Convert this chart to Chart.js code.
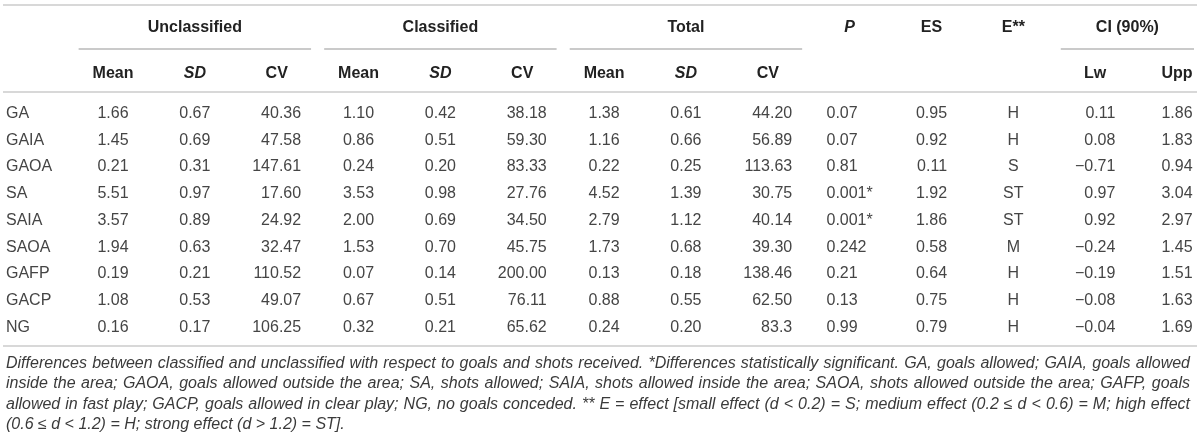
<!DOCTYPE html>
<html>
<head>
<meta charset="utf-8">
<script src="https://cdn.jsdelivr.net/npm/chart.js@4.4.1/dist/chart.umd.min.js"></script>
<style>
html,body{margin:0;padding:0;background:#fff;}
#wrap{width:1200px;height:440px;position:relative;}
</style>
</head>
<body>
<div id="wrap"><canvas id="c"></canvas></div>
<script>
// ---- data ----
const rowLabels = ['GA','GAIA','GAOA','SA','SAIA','SAOA','GAFP','GACP','NG'];
const unclassMean = ['1.66','1.45','0.21','5.51','3.57','1.94','0.19','1.08','0.16'];
const unclassSD   = ['0.67','0.69','0.31','0.97','0.89','0.63','0.21','0.53','0.17'];
const unclassCV   = ['40.36','47.58','147.61','17.60','24.92','32.47','110.52','49.07','106.25'];
const classMean   = ['1.10','0.86','0.24','3.53','2.00','1.53','0.07','0.67','0.32'];
const classSD     = ['0.42','0.51','0.20','0.98','0.69','0.70','0.14','0.51','0.21'];
const classCV     = ['38.18','59.30','83.33','27.76','34.50','45.75','200.00','76.11','65.62'];
const totalMean   = ['1.38','1.16','0.22','4.52','2.79','1.73','0.13','0.88','0.24'];
const totalSD     = ['0.61','0.66','0.25','1.39','1.12','0.68','0.18','0.55','0.20'];
const totalCV     = ['44.20','56.89','113.63','30.75','40.14','39.30','138.46','62.50','83.3'];
const pValue      = ['0.07','0.07','0.81','0.001*','0.001*','0.242','0.21','0.13','0.99'];
const effectSize  = ['0.95','0.92','0.11','1.92','1.86','0.58','0.64','0.75','0.79'];
const effectClass = ['H','H','S','ST','ST','M','H','H','H'];
const ciLower     = ['0.11','0.08','\u22120.71','0.97','0.92','\u22120.24','\u22120.19','\u22120.08','\u22120.04'];
const ciUpper     = ['1.86','1.83','0.94','3.04','2.97','1.45','1.51','1.63','1.69'];

const columnKeys    = ['uMean','uSD','uCV','cMean','cSD','cCV','tMean','tSD','tCV','P','ES','E','Lw','Upp'];
const columnHeaders = ['Mean','SD','CV','Mean','SD','CV','Mean','SD','CV','','','','Lw','Upp'];
const columnValues  = [unclassMean,unclassSD,unclassCV,classMean,classSD,classCV,totalMean,totalSD,totalCV,pValue,effectSize,effectClass,ciLower,ciUpper];
const groupLabels   = ['Unclassified','Classified','Total','P','ES','E**','CI (90%)'];
const groupSpans    = [[0,2],[3,5],[6,8],[9,9],[10,10],[11,11],[12,13]];

const footnoteLines = [
  'Differences between classified and unclassified with respect to goals and shots received. *Differences statistically significant. GA, goals allowed; GAIA, goals allowed',
  'inside the area; GAOA, goals allowed outside the area; SA, shots allowed; SAIA, shots allowed inside the area; SAOA, shots allowed outside the area; GAFP, goals',
  'allowed in fast play; GACP, goals allowed in clear play; NG, no goals conceded. ** E = effect [small effect (d < 0.2) = S; medium effect (0.2 \u2264 d < 0.6) = M; high effect',
  '(0.6 \u2264 d < 1.2) = H; strong effect (d > 1.2) = ST].'
];

// ---- styles ----
const FAMILY = '"Liberation Sans", Arial, Helvetica, sans-serif';
const columnAlign = ['right','right','right','right','right','right','right','right','right','left','right','center','right','right'];
const italicHeader = ['SD'];
const italicGroup = ['P'];
const TY = 1.5; // optical baseline shift for text

const tablePlugin = {
  id: 'tablePlugin',
  afterDatasetsDraw(chart) {
    const ctx = chart.ctx;
    const xs = chart.scales.x, ys = chart.scales.y;
    const top = ys.getPixelForValue(0);
    const bottom = ys.getPixelForValue(rowLabels.length - 1);
    const gap = xs.getPixelForValue(1) - xs.getPixelForValue(0);
    const W = chart.width;
    ctx.save();

    // rules
    ctx.strokeStyle = '#d8d8d8';
    ctx.lineWidth = 2;
    [top - 107, top - 20, bottom + 20].forEach(y => {
      ctx.beginPath(); ctx.moveTo(3, y); ctx.lineTo(W - 3, y); ctx.stroke();
    });

    // group headers
    ctx.textBaseline = 'middle';
    ctx.fillStyle = '#222';
    groupLabels.forEach((g, i) => {
      const [a, b] = groupSpans[i];
      const xa = xs.getPixelForValue(a), xb = xs.getPixelForValue(b);
      ctx.font = (italicGroup.includes(g) ? 'italic ' : '') + 'bold 16px ' + FAMILY;
      ctx.textAlign = 'center';
      let cx = (xa + xb) / 2;
      if (b > a) {
        const l0 = xa - gap * 0.42, l1 = Math.min(xb + gap * 0.42, W - 6);
        cx = (l0 + l1) / 2;
        ctx.strokeStyle = '#b9b9b9';
        ctx.lineWidth = 1.3;
        ctx.beginPath();
        ctx.moveTo(l0, top - 63);
        ctx.lineTo(l1, top - 63);
        ctx.stroke();
      }
      ctx.fillText(g, cx, top - 86 + TY);
    });

    // column headers
    columnHeaders.forEach((h, i) => {
      if (!h) return;
      ctx.font = (italicHeader.includes(h) ? 'italic ' : '') + 'bold 16px ' + FAMILY;
      ctx.textAlign = 'center';
      ctx.fillText(h, xs.getPixelForValue(i), top - 40 + TY);
    });

    // row labels
    ctx.font = '16px ' + FAMILY;
    ctx.fillStyle = '#454545';
    ctx.textAlign = 'left';
    rowLabels.forEach((r, i) => ctx.fillText(r, 6, ys.getPixelForValue(i) + TY));

    // cells
    chart.data.datasets.forEach((ds, ci) => {
      const meta = chart.getDatasetMeta(ci);
      const vals = columnValues[ci];
      const maxW = Math.max(...vals.map(v => ctx.measureText(v).width));
      const al = columnAlign[ci];
      meta.data.forEach((el, ri) => {
        let x = el.x;
        if (al === 'right') x = el.x + maxW / 2;
        if (al === 'left') x = el.x - maxW / 2;
        ctx.textAlign = al;
        ctx.fillText(vals[ri], x, el.y + TY);
      });
    });

    // footnote (justified)
    ctx.font = 'italic 16px ' + FAMILY;
    ctx.fillStyle = '#3a3a3a';
    ctx.textAlign = 'left';
    const fx0 = 6, fx1 = W - 10;
    footnoteLines.forEach((line, li) => {
      const y = bottom + 36 + li * 20.4 + TY;
      if (li === footnoteLines.length - 1) { ctx.fillText(line, fx0, y); return; }
      const words = line.split(' ');
      const widths = words.map(w => ctx.measureText(w).width);
      const total = widths.reduce((s, v) => s + v, 0);
      const sp = (fx1 - fx0 - total) / (words.length - 1);
      let x = fx0;
      words.forEach((w, k) => { ctx.fillText(w, x, y); x += widths[k] + sp; });
    });
    ctx.restore();
  }
};

new Chart(document.getElementById('c'), {
  type: 'scatter',
  data: {
    datasets: columnKeys.map((k, ci) => ({
      label: k,
      data: rowLabels.map(r => ({ x: k, y: r })),
      pointRadius: 0,
      pointHoverRadius: 0,
      showLine: false
    }))
  },
  options: {
    responsive: true,
    maintainAspectRatio: false,
    animation: false,
    events: [],
    layout: { padding: { left: 113, right: 23, top: 112, bottom: 114 } },
    scales: {
      x: { type: 'category', labels: columnKeys, offset: false, display: false },
      y: { type: 'category', labels: rowLabels, offset: false, display: false }
    },
    plugins: { legend: { display: false }, tooltip: { enabled: false } }
  },
  plugins: [tablePlugin]
});
</script>
</body>
</html>
